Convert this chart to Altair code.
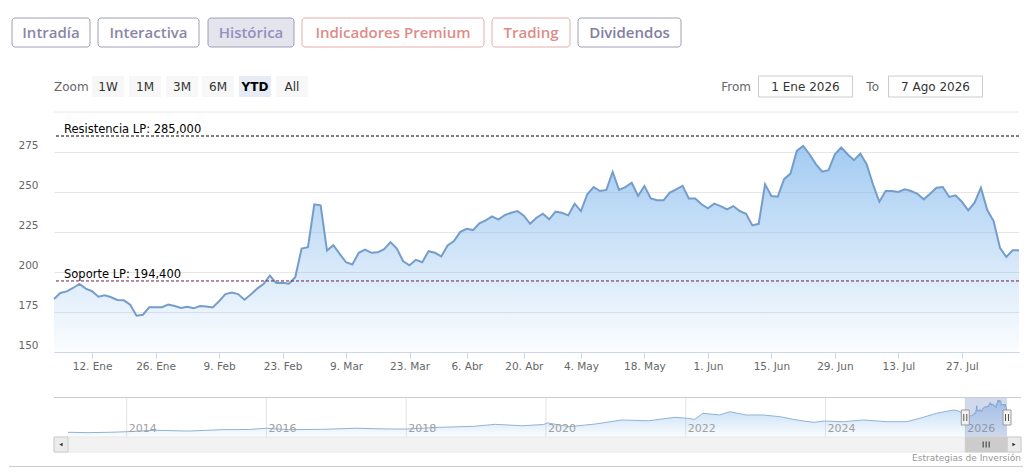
import altair as alt
import pandas as pd

# ---------------- data ----------------
START_DATE = "2026-01-02"
END_DATE = "2026-08-07"
HOLIDAYS = ["2026-04-03", "2026-04-06", "2026-05-01"]

close = [
    183.1, 186.9, 187.9, 190.0, 192.5, 189.6, 188.0, 184.6, 185.4, 184.2,
    182.5, 182.3, 179.6, 172.7, 173.3, 177.9, 178.0, 178.0, 179.6, 178.7,
    177.5, 178.2, 177.3, 178.7, 178.5, 177.8, 181.7, 186.2, 187.1, 186.2,
    182.7, 185.9, 189.6, 192.5, 197.8, 193.1, 193.3, 192.7, 196.7, 214.7,
    215.5, 242.3, 241.7, 213.4, 216.8, 211.3, 206.1, 204.7, 212.0, 214.0,
    212.0, 212.3, 214.3, 218.7, 214.7, 206.7, 204.2, 207.6, 206.1, 213.0,
    212.0, 209.7, 216.6, 219.3, 225.1, 227.0, 226.2, 230.4, 232.3, 234.8,
    232.7, 235.6, 237.0, 238.1, 235.2, 230.1, 233.9, 236.4, 232.9, 237.7,
    237.0, 235.4, 242.7, 238.1, 248.6, 253.1, 250.6, 251.3, 262.5, 251.3,
    253.1, 255.8, 247.5, 253.8, 246.0, 244.8, 244.8, 249.6, 251.7, 253.8,
    246.0, 246.0, 242.3, 239.8, 242.7, 241.2, 239.2, 241.2, 238.1, 236.4,
    229.1, 230.1, 254.8, 247.5, 247.1, 258.0, 261.5, 275.7, 278.8, 273.6,
    267.4, 262.7, 263.6, 273.6, 277.8, 273.6, 269.9, 274.0, 267.4, 254.8,
    243.9, 250.6, 250.6, 250.0, 251.7, 250.6, 248.9, 245.4, 248.9, 252.7,
    253.1, 246.9, 247.9, 243.9, 238.5, 243.3, 252.7, 238.7, 231.8, 215.1,
    209.4, 213.6, 213.6,
]

tick_dates = ["2026-01-12", "2026-01-26", "2026-02-09", "2026-02-23", "2026-03-09",
              "2026-03-23", "2026-04-07", "2026-04-20", "2026-05-04", "2026-05-18",
              "2026-06-01", "2026-06-15", "2026-06-29", "2026-07-13", "2026-07-27"]
tick_labels = ["12. Ene", "26. Ene", "9. Feb", "23. Feb", "9. Mar", "23. Mar", "6. Abr",
               "20. Abr", "4. May", "18. May", "1. Jun", "15. Jun", "29. Jun", "13. Jul",
               "27. Jul"]
y_ticks = [150, 175, 200, 225, 250, 275]
y_min, y_max = 150, 300

level_values = [285.0, 194.4]
level_labels = ["Resistencia LP: 285,000", "Soporte LP: 194,400"]
level_colors = ["#000000", "#6b1a4b"]

nav_dates = ["2013-02-28", "2013-06-18", "2013-10-01", "2014-01-01", "2014-06-01",
             "2014-11-24", "2015-05-15", "2015-10-01", "2016-01-01", "2016-04-25",
             "2016-10-20", "2017-04-13", "2017-10-05", "2018-01-01", "2018-06-20",
             "2018-12-15", "2019-04-12", "2019-09-02", "2019-12-20", "2020-01-10",
             "2020-05-01", "2020-09-15", "2021-02-03", "2021-06-20", "2021-11-05",
             "2022-01-08", "2022-02-17", "2022-04-01", "2022-06-27", "2022-08-18",
             "2022-11-13", "2023-02-09", "2023-05-08", "2023-08-04", "2023-10-30",
             "2023-12-28", "2024-04-05", "2024-07-18", "2024-11-16", "2025-03-01",
             "2025-05-09", "2025-08-04", "2025-10-31", "2025-11-28"]
nav_values = [72, 70, 72, 76, 85, 80, 89, 90, 98, 89,
              91, 98, 93, 93, 104, 110, 123, 114, 122, 132,
              108, 125, 151, 146, 168, 162, 155, 194, 183, 204,
              183, 183, 172, 151, 136, 144, 140, 151, 140, 140,
              162, 194, 215, 208]
nav_years = ["2014", "2016", "2018", "2020", "2022", "2024", "2026"]
nav_first, nav_last = "2013-02-28", "2026-08-07"
nav_y_domain = [42, 298]

range_from = "2026-01-01"
range_to = "2026-08-07"
from_text = "1 Ene 2026"
to_text = "7 Ago 2026"

tabs = ["Intradía", "Interactiva", "Histórica", "Indicadores Premium", "Trading", "Dividendos"]
zoom_buttons = ["1W", "1M", "3M", "6M", "YTD", "All"]
zoom_active = "YTD"
credit = "Estrategias de Inversión"

# ---------------- layout / styles ----------------
FONT = "DejaVu Sans"
W_MAIN, H_MAIN = 965, 240
W_PANEL = 967
H_HEAD = 103
H_NAV = 40

tab_x0 = [-42, 44, 154, 248, 438, 524]
tab_x1 = [36, 145, 240, 430, 516, 627]
tab_stroke = ["#a09eb6", "#a09eb6", "#a09eb6", "#e5aeab", "#e5aeab", "#a09eb6"]
tab_fill = ["#ffffff", "#ffffff", "#e3e4ec", "#ffffff", "#ffffff", "#ffffff"]
tab_tcol = ["#8a86a8", "#8a86a8", "#958fc0", "#df8b88", "#df8b88", "#837ea2"]

zb_x0 = [38, 75, 112, 148, 185, 222]
zb_x1 = [70, 107, 144, 180, 217, 254]

one = pd.DataFrame({"k": [0]})

# ---------------- header ----------------
tab_df = pd.DataFrame({"label": tabs, "x0": tab_x0, "x1": tab_x1, "stroke": tab_stroke,
                       "fill": tab_fill, "tcol": tab_tcol})
tab_df["xc"] = (tab_df.x0 + tab_df.x1) / 2
zb_df = pd.DataFrame({"label": zoom_buttons, "x0": zb_x0, "x1": zb_x1})
zb_df["xc"] = (zb_df.x0 + zb_df.x1) / 2
zb_df["fill"] = ["#e6ebf5" if b == zoom_active else "#f7f7f7" for b in zoom_buttons]

px = lambda f: alt.X(f, scale=None, axis=None)

h_spacer = alt.Chart(one).mark_rule(color="#ffffff", strokeWidth=1).encode(
    x=alt.value(-45), x2=alt.value(0), y=alt.value(1))
h_tabs = alt.Chart(tab_df).mark_rect(cornerRadius=3, strokeWidth=1).encode(
    x=px("x0:Q"), x2="x1:Q", y=alt.value(10), y2=alt.value(39),
    fill=alt.Fill("fill:N", scale=None), stroke=alt.Stroke("stroke:N", scale=None))
h_tab_txt = alt.Chart(tab_df).mark_text(font="Open Sans", fontSize=15, fontWeight=600,
                                       baseline="middle", align="center").encode(
    x=px("xc:Q"), y=alt.value(25), text="label:N", color=alt.Color("tcol:N", scale=None))
h_zoom_lbl = alt.Chart(one).mark_text(font=FONT, fontSize=12, color="#666666", align="left",
                                     baseline="middle").encode(
    x=alt.value(0), y=alt.value(78.5), text=alt.value("Zoom"))
h_zb = alt.Chart(zb_df).mark_rect().encode(
    x=px("x0:Q"), x2="x1:Q", y=alt.value(68), y2=alt.value(89),
    fill=alt.Fill("fill:N", scale=None))
h_zb_txt = alt.Chart(zb_df).transform_filter(alt.datum.label != zoom_active).mark_text(
    font=FONT, fontSize=12, color="#333333", baseline="middle").encode(
    x=px("xc:Q"), y=alt.value(78.5), text="label:N")
h_zb_txt_act = alt.Chart(zb_df).transform_filter(alt.datum.label == zoom_active).mark_text(
    font=FONT, fontSize=12, fontWeight="bold", color="#000000", baseline="middle").encode(
    x=px("xc:Q"), y=alt.value(78.5), text="label:N")
h_from_lbl = alt.Chart(one).mark_text(font=FONT, fontSize=12, color="#666666", align="right",
                                     baseline="middle").encode(
    x=alt.value(697), y=alt.value(78.5), text=alt.value("From"))
h_to_lbl = alt.Chart(one).mark_text(font=FONT, fontSize=12, color="#666666", align="right",
                                   baseline="middle").encode(
    x=alt.value(825), y=alt.value(78.5), text=alt.value("To"))
h_from_box = alt.Chart(one).mark_rect(fill="#ffffff", stroke="#cccccc").encode(
    x=alt.value(704.5), x2=alt.value(798.5), y=alt.value(68), y2=alt.value(89))
h_to_box = alt.Chart(one).mark_rect(fill="#ffffff", stroke="#cccccc").encode(
    x=alt.value(834.5), x2=alt.value(928.5), y=alt.value(68), y2=alt.value(89))
h_from_txt = alt.Chart(one).mark_text(font=FONT, fontSize=12, color="#333333",
                                     baseline="middle").encode(
    x=alt.value(751.5), y=alt.value(78.5), text=alt.value(from_text))
h_to_txt = alt.Chart(one).mark_text(font=FONT, fontSize=12, color="#333333",
                                   baseline="middle").encode(
    x=alt.value(881.5), y=alt.value(78.5), text=alt.value(to_text))

header = alt.layer(h_spacer, h_tabs, h_tab_txt, h_zoom_lbl, h_zb, h_zb_txt, h_zb_txt_act,
                   h_from_lbl, h_to_lbl, h_from_box, h_to_box, h_from_txt, h_to_txt
                   ).properties(width=W_PANEL, height=H_HEAD)

# ---------------- main chart ----------------
days = pd.bdate_range(START_DATE, END_DATE)
days = days[~days.isin(pd.to_datetime(HOLIDAYS))]
assert len(days) == len(close)
main_df = pd.DataFrame({"i": range(len(close)), "date": days.strftime("%Y-%m-%d"),
                        "close": close})
tick_idx = [int(days.searchsorted(pd.Timestamp(d))) for d in tick_dates]
label_expr = "[" + ",".join("'%s'" % l for l in tick_labels) + "][indexof(" + \
    str(tick_idx) + ", datum.value)]"

xs = alt.Scale(domain=[0, len(close) - 1], nice=False, zero=False)
ys = alt.Scale(domain=[y_min, y_max], nice=False, zero=False)

x_axis = alt.Axis(values=tick_idx, labelExpr=label_expr, title=None, grid=False,
                  domainColor="#ccd6eb", tickColor="#ccd6eb", tickSize=6,
                  labelColor="#666666", labelFont=FONT, labelFontSize=10.5, labelPadding=3,
                  labelFlush=False, labelOverlap=False, minExtent=44, maxExtent=44)
y_axis = alt.Axis(values=y_ticks, title=None, grid=True, gridColor="#e6e6e6", domain=False,
                  ticks=False, labelColor="#666666", labelFont=FONT, labelFontSize=10.5,
                  labelPadding=16, labelBaseline="alphabetic", labelOffset=-4,
                  labelFlush=False, labelOverlap=False, minExtent=45, maxExtent=45)

main_grad = {"gradient": "linear", "x1": 0, "x2": 0, "y1": 0, "y2": 1,
             "stops": [{"offset": 0, "color": "rgba(124,181,236,1)"},
                       {"offset": 1, "color": "rgba(124,181,236,0.04)"}]}

m_topgrid = alt.Chart(one).mark_rule(color="#e6e6e6", strokeWidth=1).encode(
    y=alt.datum(y_max))
m_area = alt.Chart(main_df).mark_area(
    color=main_grad, line={"color": "#759dcb", "strokeWidth": 2}).encode(
    x=alt.X("i:Q", scale=xs, axis=x_axis),
    y=alt.Y("close:Q", scale=ys, axis=y_axis),
    y2=alt.datum(y_min))
lv_df = pd.DataFrame({"level": level_values, "label": level_labels, "col": level_colors})
m_levels = alt.Chart(lv_df).mark_rule(strokeDash=[3, 2], strokeWidth=1).encode(
    y=alt.Y("level:Q", scale=ys, axis=y_axis), color=alt.Color("col:N", scale=None))
m_level_txt = alt.Chart(lv_df).mark_text(align="left", baseline="alphabetic", dy=-3,
                                        font=FONT, fontSize=11.5, color="#000000").encode(
    x=alt.value(10), y=alt.Y("level:Q", scale=ys, axis=y_axis), text="label:N")

main = alt.layer(m_topgrid, m_area, m_levels, m_level_txt).properties(
    width=W_MAIN, height=H_MAIN)

# ---------------- navigator ----------------
nav_df = pd.concat([
    pd.DataFrame({"date": nav_dates, "v": nav_values}),
    main_df[["date", "close"]].rename(columns={"close": "v"}),
], ignore_index=True)
years_df = pd.DataFrame({"date": [y + "-01-01" for y in nav_years], "label": nav_years})
t0 = pd.Timestamp(range_from)
t1 = pd.Timestamp(range_to)
sel_df = pd.DataFrame({"a": [range_from], "b": [range_to],
                       "m": [(t0 + (t1 - t0) / 2).strftime("%Y-%m-%d")]})

def dt(s):
    t = pd.Timestamp(s)
    return alt.DateTime(year=t.year, month=t.month, date=t.day, utc=True)

nx = alt.Scale(domain=[dt(nav_first), dt(nav_last)], range=[14, W_PANEL - 14])
ny = alt.Scale(domain=nav_y_domain, nice=False, zero=False)
tx = lambda f: alt.X(f, scale=nx, axis=None)

nav_grad = {"gradient": "linear", "x1": 0, "x2": 0, "y1": 0, "y2": 1,
            "stops": [{"offset": 0, "color": "rgba(124,181,236,0.75)"},
                      {"offset": 1, "color": "rgba(124,181,236,0.05)"}]}

n_grid = alt.Chart(years_df).mark_rule(color="#e3e3e3").encode(
    x=tx("date:T"), y=alt.value(0), y2=alt.value(H_NAV))
n_area = alt.Chart(nav_df).mark_area(
    color=nav_grad, line={"color": "#93b2d8", "strokeWidth": 1}).encode(
    x=tx("date:T"), y=alt.Y("v:Q", scale=ny, axis=None), y2=alt.datum(nav_y_domain[0]))
n_year_txt = alt.Chart(years_df).mark_text(align="left", baseline="alphabetic", dx=2,
                                          font=FONT, fontSize=11, color="#a0a0a0").encode(
    x=tx("date:T"), y=alt.value(35), text="label:N")
n_mask = alt.Chart(sel_df).mark_rect(color="rgba(102,133,194,0.3)").encode(
    x=tx("a:T"), x2="b:T", y=alt.value(0), y2=alt.value(H_NAV))
n_outline = alt.Chart(one).mark_rule(color="#cccccc").encode(
    x=alt.value(0), x2=alt.value(W_PANEL), y=alt.value(0.5))
n_track = alt.Chart(one).mark_rect(fill="#f2f2f2", stroke="#e8e8e8").encode(
    x=alt.value(0), x2=alt.value(W_PANEL), y=alt.value(H_NAV), y2=alt.value(H_NAV + 15))
n_btn_l = alt.Chart(one).mark_rect(fill="#ebebeb", stroke="#cccccc").encode(
    x=alt.value(0), x2=alt.value(14), y=alt.value(H_NAV), y2=alt.value(H_NAV + 15))
n_btn_r = alt.Chart(one).mark_rect(fill="#ebebeb", stroke="#cccccc").encode(
    x=alt.value(W_PANEL - 14), x2=alt.value(W_PANEL), y=alt.value(H_NAV),
    y2=alt.value(H_NAV + 15))
n_arr_l = alt.Chart(one).mark_point(shape="triangle-left", filled=True, size=14,
                                    color="#333333", opacity=1).encode(
    x=alt.value(7), y=alt.value(H_NAV + 7.5))
n_arr_r = alt.Chart(one).mark_point(shape="triangle-right", filled=True, size=14,
                                    color="#333333", opacity=1).encode(
    x=alt.value(W_PANEL - 7), y=alt.value(H_NAV + 7.5))
n_thumb = alt.Chart(sel_df).mark_rect(fill="#cccccc", stroke="#cccccc").encode(
    x=tx("a:T"), x2="b:T", y=alt.value(H_NAV), y2=alt.value(H_NAV + 15))
n_grips = [alt.Chart(sel_df).mark_rule(color="#333333", xOffset=o).encode(
    x=tx("m:T"), y=alt.value(H_NAV + 4.5), y2=alt.value(H_NAV + 10.5)) for o in (-3, 0, 3)]
n_handles = []
for f in ("a:T", "b:T"):
    n_handles.append(alt.Chart(sel_df).mark_rect(fill="#f2f2f2", stroke="#999999",
                                                 xOffset=-4, x2Offset=4).encode(
        x=tx(f), x2=f, y=alt.value(13), y2=alt.value(28)))
    for o in (-1.5, 1.5):
        n_handles.append(alt.Chart(sel_df).mark_rule(color="#555555", xOffset=o).encode(
            x=tx(f), y=alt.value(17), y2=alt.value(24)))
n_credit = alt.Chart(one).mark_text(font=FONT, fontSize=9, color="#999999", align="right",
                                   baseline="alphabetic").encode(
    x=alt.value(W_PANEL), y=alt.value(64), text=alt.value(credit))
n_bottom = alt.Chart(one).mark_rule(color="#cccccc").encode(
    x=alt.value(-45), x2=alt.value(W_PANEL + 2), y=alt.value(69.5))

nav = alt.layer(n_grid, n_area, n_year_txt, n_mask, n_outline, n_track, n_btn_l, n_btn_r,
                n_arr_l, n_arr_r, n_thumb, *n_grips, *n_handles, n_credit, n_bottom
                ).properties(width=W_PANEL, height=H_NAV)

chart = alt.vconcat(header, main, nav, spacing=0).properties(
    padding=0, background="#ffffff").configure_view(strokeWidth=0)

chart.save("out.html", embed_options={"renderer": "svg", "actions": False})
